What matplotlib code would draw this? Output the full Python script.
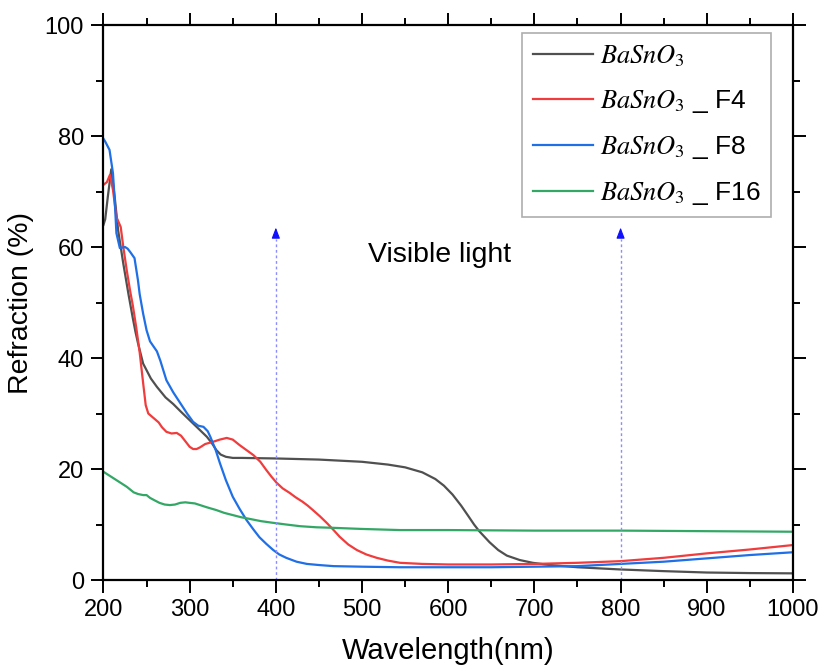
import matplotlib
matplotlib.use("Agg")
import matplotlib.pyplot as plt
from matplotlib.ticker import MultipleLocator

plt.rcParams['font.family'] = ['Liberation Sans', 'DejaVu Sans']
plt.rcParams['mathtext.fontset'] = 'stix'

# Reflectance spectra (wavelength in nm, refraction in %)
wl_base = [200, 202, 205, 209, 213, 217, 223, 229, 234, 237, 240, 246, 255, 262, 272, 281, 290,
           300, 310, 320, 326, 331, 336, 342, 350, 360, 400, 450, 500, 530, 550, 570, 585, 595,
           605, 615, 623, 630, 636, 642, 648, 658, 668, 683, 698, 718, 750, 800, 850, 900, 950, 1000]
r_base = [64, 65, 69, 74, 69, 63, 57, 51.5, 47.2, 44.8, 42.7, 39, 36.3, 34.8, 32.9, 31.7, 30.3,
          28.8, 27.3, 25.8, 24.6, 23.4, 22.6, 22.2, 22.0, 22.0, 21.9, 21.7, 21.3, 20.8, 20.3, 19.4,
          18.2, 17.0, 15.4, 13.4, 11.6, 10.0, 8.8, 7.8, 6.8, 5.4, 4.4, 3.6, 3.1, 2.7, 2.3, 1.9,
          1.6, 1.35, 1.25, 1.2]

wl_f4 = [200, 204, 207.5, 211, 215, 220, 223, 227, 231, 234, 238, 242, 246, 249, 252, 258, 264,
         268, 273, 279, 285, 290, 295, 300, 304, 308, 312, 318, 327, 335, 343, 350, 358, 366, 374,
         382, 389, 395, 401, 408, 416, 423, 431, 437, 443, 451, 459, 467, 474, 484, 494, 505, 517,
         530, 544, 570, 600, 650, 700, 750, 800, 850, 900, 950, 1000]
r_f4 = [71.2, 71.7, 73, 70.3, 65.4, 63.6, 60, 55.8, 52, 49.5, 45.5, 41, 35.5, 31.5, 30, 29.2, 28.4,
        27.5, 26.7, 26.4, 26.5, 26, 25, 24, 23.6, 23.6, 23.9, 24.5, 24.9, 25.3, 25.6, 25.3, 24.3,
        23.4, 22.5, 21.3, 19.8, 18.6, 17.5, 16.5, 15.7, 14.9, 14.1, 13.4, 12.6, 11.5, 10.3, 9, 7.8,
        6.4, 5.4, 4.6, 4.0, 3.5, 3.1, 2.9, 2.8, 2.8, 2.9, 3.1, 3.4, 4.0, 4.8, 5.5, 6.3]

wl_f8 = [200, 202, 207, 211, 213, 215, 219, 222, 225, 228, 231, 236, 240, 242, 246, 250, 254, 262,
         266, 273, 281, 289, 297, 304, 310, 316, 321, 324, 330, 335, 342, 350, 358, 366,
         374, 381, 389, 397, 404, 412, 424, 436, 450, 467, 500, 544, 600, 650, 700, 750, 800, 850,
         900, 950, 1000]
r_f8 = [79.5, 79, 77.5, 73.3, 68.5, 62.5, 59.8, 59.9, 60, 59.7, 59.1, 58, 54, 51.5, 48, 45, 43,
        41.2, 39.5, 36, 33.8, 31.9, 30, 28.5, 27.8, 27.6, 26.8, 25.8, 23.5, 21.1, 18,
        15.0, 12.8, 10.8, 9.1, 7.7, 6.5, 5.4, 4.6, 4.0, 3.3, 2.9, 2.7, 2.5, 2.4, 2.3, 2.3, 2.3, 2.4,
        2.5, 2.9, 3.3, 3.9, 4.5, 5.0]

wl_f16 = [200, 207, 215, 221, 227, 235, 240, 246, 250, 254, 260, 265, 271, 277, 283, 289, 295, 300,
          306, 312, 320, 331, 340, 350, 360, 370, 383, 397, 412, 428, 447, 467, 500, 544, 600, 700,
          800, 900, 1000]
r_f16 = [19.5, 18.8, 18.0, 17.4, 16.8, 15.8, 15.5, 15.3, 15.3, 14.8, 14.3, 13.9, 13.6, 13.5, 13.6,
         13.9, 14.0, 13.9, 13.8, 13.5, 13.1, 12.6, 12.1, 11.7, 11.3, 11.0, 10.6, 10.3, 10.0, 9.7,
         9.5, 9.4, 9.2, 9.0, 9.0, 8.9, 8.9, 8.8, 8.7]

labels = [r'$BaSnO_3$', r'$BaSnO_3$ _ F4', r'$BaSnO_3$ _ F8', r'$BaSnO_3$ _ F16']
colors = ['#505050', '#f03c3c', '#1f6fe6', '#33a866']

visible_bounds = [400, 800]
visible_top = 64

fig = plt.figure(figsize=(8.2, 6.65), dpi=100)
ax = fig.add_axes([0.1262, 0.1278, 0.8408, 0.8346])

series = [(wl_base, r_base), (wl_f4, r_f4), (wl_f8, r_f8), (wl_f16, r_f16)]
for (x, y), lab, c in zip(series, labels, colors):
    ax.plot(x, y, color=c, lw=1.6, label=lab)

# Dotted arrows marking the visible range
for xb in visible_bounds:
    ax.plot([xb, xb], [0, visible_top - 2.5], color='#8c8cff', lw=1.0, ls=(0, (2, 2)))
    ax.annotate('', xy=(xb, visible_top), xytext=(xb, visible_top - 2.8),
                arrowprops=dict(arrowstyle='-|>,head_length=0.65,head_width=0.25',
                                color='#1010ff', lw=0.8))

ax.text(590, 58.5, 'Visible light', fontsize=20.5, ha='center', va='center')

ax.set_xlim(200, 1000)
ax.set_ylim(0, 100)
ax.xaxis.set_major_locator(MultipleLocator(100))
ax.xaxis.set_minor_locator(MultipleLocator(50))
ax.yaxis.set_major_locator(MultipleLocator(20))
ax.yaxis.set_minor_locator(MultipleLocator(10))
ax.tick_params(which='both', direction='out', top=True, right=True, width=1.4, labelsize=17)
ax.tick_params(which='major', length=9, pad=5)
ax.tick_params(which='minor', length=5)
for s in ax.spines.values():
    s.set_linewidth(1.6)

ax.set_xlabel('Wavelength(nm)', fontsize=21, labelpad=11)
ax.set_ylabel('Refraction (%)', fontsize=20.5, labelpad=8)

leg = ax.legend(loc='upper left', bbox_to_anchor=(0.607, 0.986), borderaxespad=0,
                fontsize=19, frameon=True, fancybox=False, edgecolor='#9a9a9a',
                handlelength=2.3, handletextpad=0.25, labelspacing=0.72, borderpad=0.4)
leg.get_frame().set_linewidth(1.2)

fig.savefig('out.png', dpi=100)
